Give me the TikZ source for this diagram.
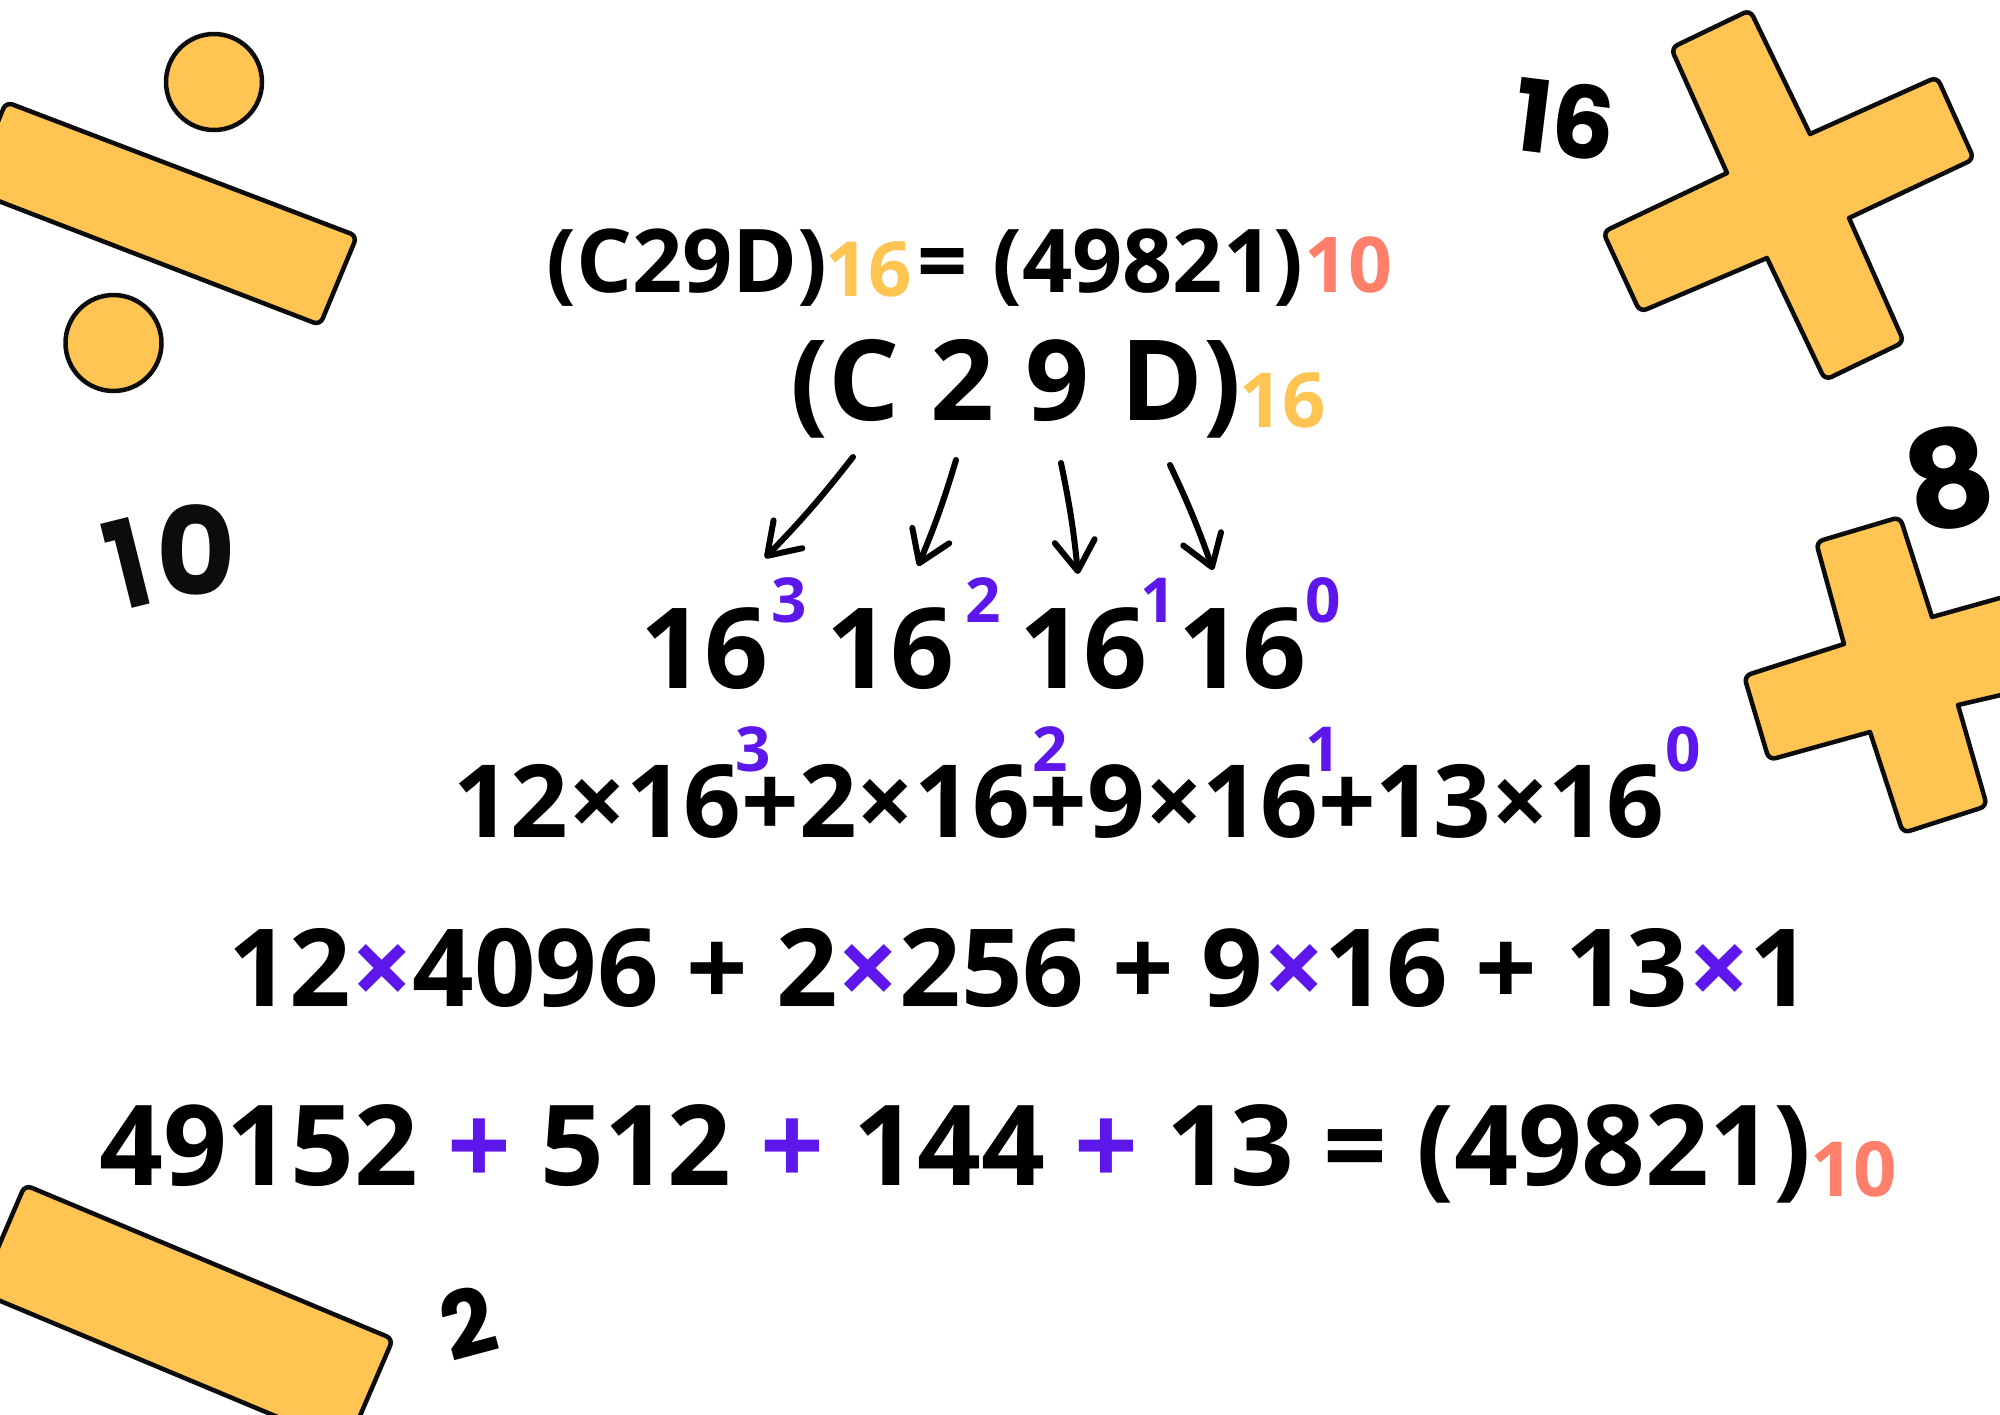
\documentclass[tikz,border=0pt]{standalone}
\usepackage{fontspec}
\usetikzlibrary{arrows.meta}
\setmainfont{Open Sans}
\newfontfamily\handfont{Poppins}
\definecolor{shapefill}{HTML}{FFC452}
\definecolor{inkline}{HTML}{0C0C0C}
\definecolor{violetmark}{HTML}{5E17EB}
\definecolor{salmonmark}{HTML}{FF7F6B}
\newcommand{\bigtext}[1]{\fontsize{#1}{#1}\selectfont\bfseries}
\newcommand{\handtext}[1]{\handfont\fontsize{#1}{#1}\selectfont\bfseries}
\newcommand{\vi}[1]{\textcolor{violetmark}{#1}}
\begin{document}
\begin{tikzpicture}[x=1pt,y=-1pt,
                    txt/.style={inner sep=0pt,anchor=base west,text=black},
                    pw/.style={inner sep=0pt,anchor=base west,text=violetmark,font=\bigtext{62}},
                    deco/.style={draw=inkline,fill=shapefill,line width=4.5pt,line join=round},
                    rc/.style={rounded corners=7pt},
                    pen/.style={draw=black,line width=6pt,line cap=round,line join=round,
                                -{Straight Barb[length=30pt,width=40pt,round]}}
                   ]
  \clip (0,0) rectangle (2000,1414);
  \fill[white] (0,0) rectangle (2000,1414);
  % bars and dots
  \draw[deco,rc] (-30,190) -- (6,102) -- (357,236) -- (320,325) -- cycle;
  \draw[deco,rc] (-21,1292) -- (25,1185) -- (393,1339) -- (347,1446) -- cycle;
  \node[deco,circle,minimum size=96pt,inner sep=0pt] (dot1) at (214,82) {};
  \node[deco,circle,minimum size=96pt,inner sep=0pt] (dot2) at (113.5,343) {};
  % the two crosses
  \draw[deco] (1727,173) [rc] -- (1671,48) -- (1750,10) [sharp corners] -- (1810,134)
     [rc] -- (1937,77) -- (1974,159) [sharp corners] -- (1849,218)
     [rc] -- (1904,342) -- (1825,380) [sharp corners] -- (1767,258)
     [rc] -- (1640,312) -- (1603,232) [sharp corners] -- cycle;
  \draw[deco] (1844,644) [rc] -- (1816,542) -- (1900,517) [sharp corners] -- (1932,617)
     -- (2100,570) -- (2130,665) -- (1958,705)
     [rc] -- (1987,806) -- (1903,833) [sharp corners] -- (1870,732)
     [rc] -- (1769,760) -- (1744,676) [sharp corners] -- cycle;
  % loose numbers
  \node[text=inkline,font=\handtext{122},inner sep=0pt] (ten) at (167,558) {\raisebox{-16pt}{\rotatebox{14}{\scalebox{.85}[1]{1}}}0};
  \node[text=black,font=\handtext{100},rotate=-7,inner sep=0pt] (sixteen) at (1565,119) {16};
  \node[text=black,font=\handtext{135},rotate=12,inner sep=0pt] (eight) at (1949,478) {8};
  \node[text=black,font=\handtext{92},rotate=15,inner sep=0pt] (two) at (468,1323) {2};
  % first line
  \node[txt,font=\bigtext{88}] (hexa) at (546,292) {(C29D)};
  \node[txt,font=\bigtext{76},text=shapefill] (hexabase) at (825,296) {16};
  \node[txt,font=\bigtext{88}] (equal) at (917,292) {=};
  \node[txt,font=\bigtext{88}] (deca) at (992,292) {(49821)};
  \node[txt,font=\bigtext{77},text=salmonmark] (decabase) at (1304,292) {10};
  % digits
  \node[txt,font=\bigtext{112}] (digits) at (790,420) {(C\kern2pt{} 2\kern2pt{} 9\kern2pt{} D)};
  \node[txt,font=\bigtext{76},text=shapefill] (digitsbase) at (1239,427) {16};
  % arrows
  \coordinate (s1) at (853,457);
  \coordinate (t1) at (765,558);
  \coordinate (s2) at (956,460);
  \coordinate (t2) at (918,566);
  \coordinate (s3) at (1061,463);
  \coordinate (t3) at (1078,574);
  \coordinate (s4) at (1170,465);
  \coordinate (t4) at (1213,570);
  \draw[pen] (s1) to[bend left=3] (t1);
  \draw[pen] (s2) to[bend left=3] (t2);
  \draw[pen] (s3) to[bend left=3] (t3);
  \draw[pen] (s4) to[bend left=3] (t4);
  % powers
  \node[txt,font=\bigtext{112}] (p3) at (640,688) {16};
  \node[txt,font=\bigtext{112}] (p2) at (826,688) {16};
  \node[txt,font=\bigtext{112}] (p1) at (1019,688) {16};
  \node[txt,font=\bigtext{112}] (p0) at (1178,688) {16};
  \node[pw] (e3) at (771,622) {3};
  \node[pw] (e2) at (965,622) {2};
  \node[pw] (e1) at (1140,622) {1};
  \node[pw] (e0) at (1305,622) {0};
  % sum of products
  \node[txt,font=\bigtext{101}] (sum) at (453,837) {12×16+2×16+9×16+13×16};
  \node[pw] (f3) at (735,771) {3};
  \node[pw] (f2) at (1032,771) {2};
  \node[pw] (f1) at (1305,771) {1};
  \node[pw] (f0) at (1665,771) {0};
  % values
  \node[txt,font=\bigtext{107.8}] (vals) at (228,1006) {12\vi{×}4096 + 2\vi{×}256 + 9\vi{×}16 + 13\vi{×}1};
  \node[txt,font=\bigtext{111.8}] (total) at (99,1185) {49152 \vi{+} 512 \vi{+} 144 \vi{+} 13 = (49821)};
  \node[txt,font=\bigtext{76},text=salmonmark] (totalbase) at (1810,1196) {10};
\end{tikzpicture}
\end{document}
